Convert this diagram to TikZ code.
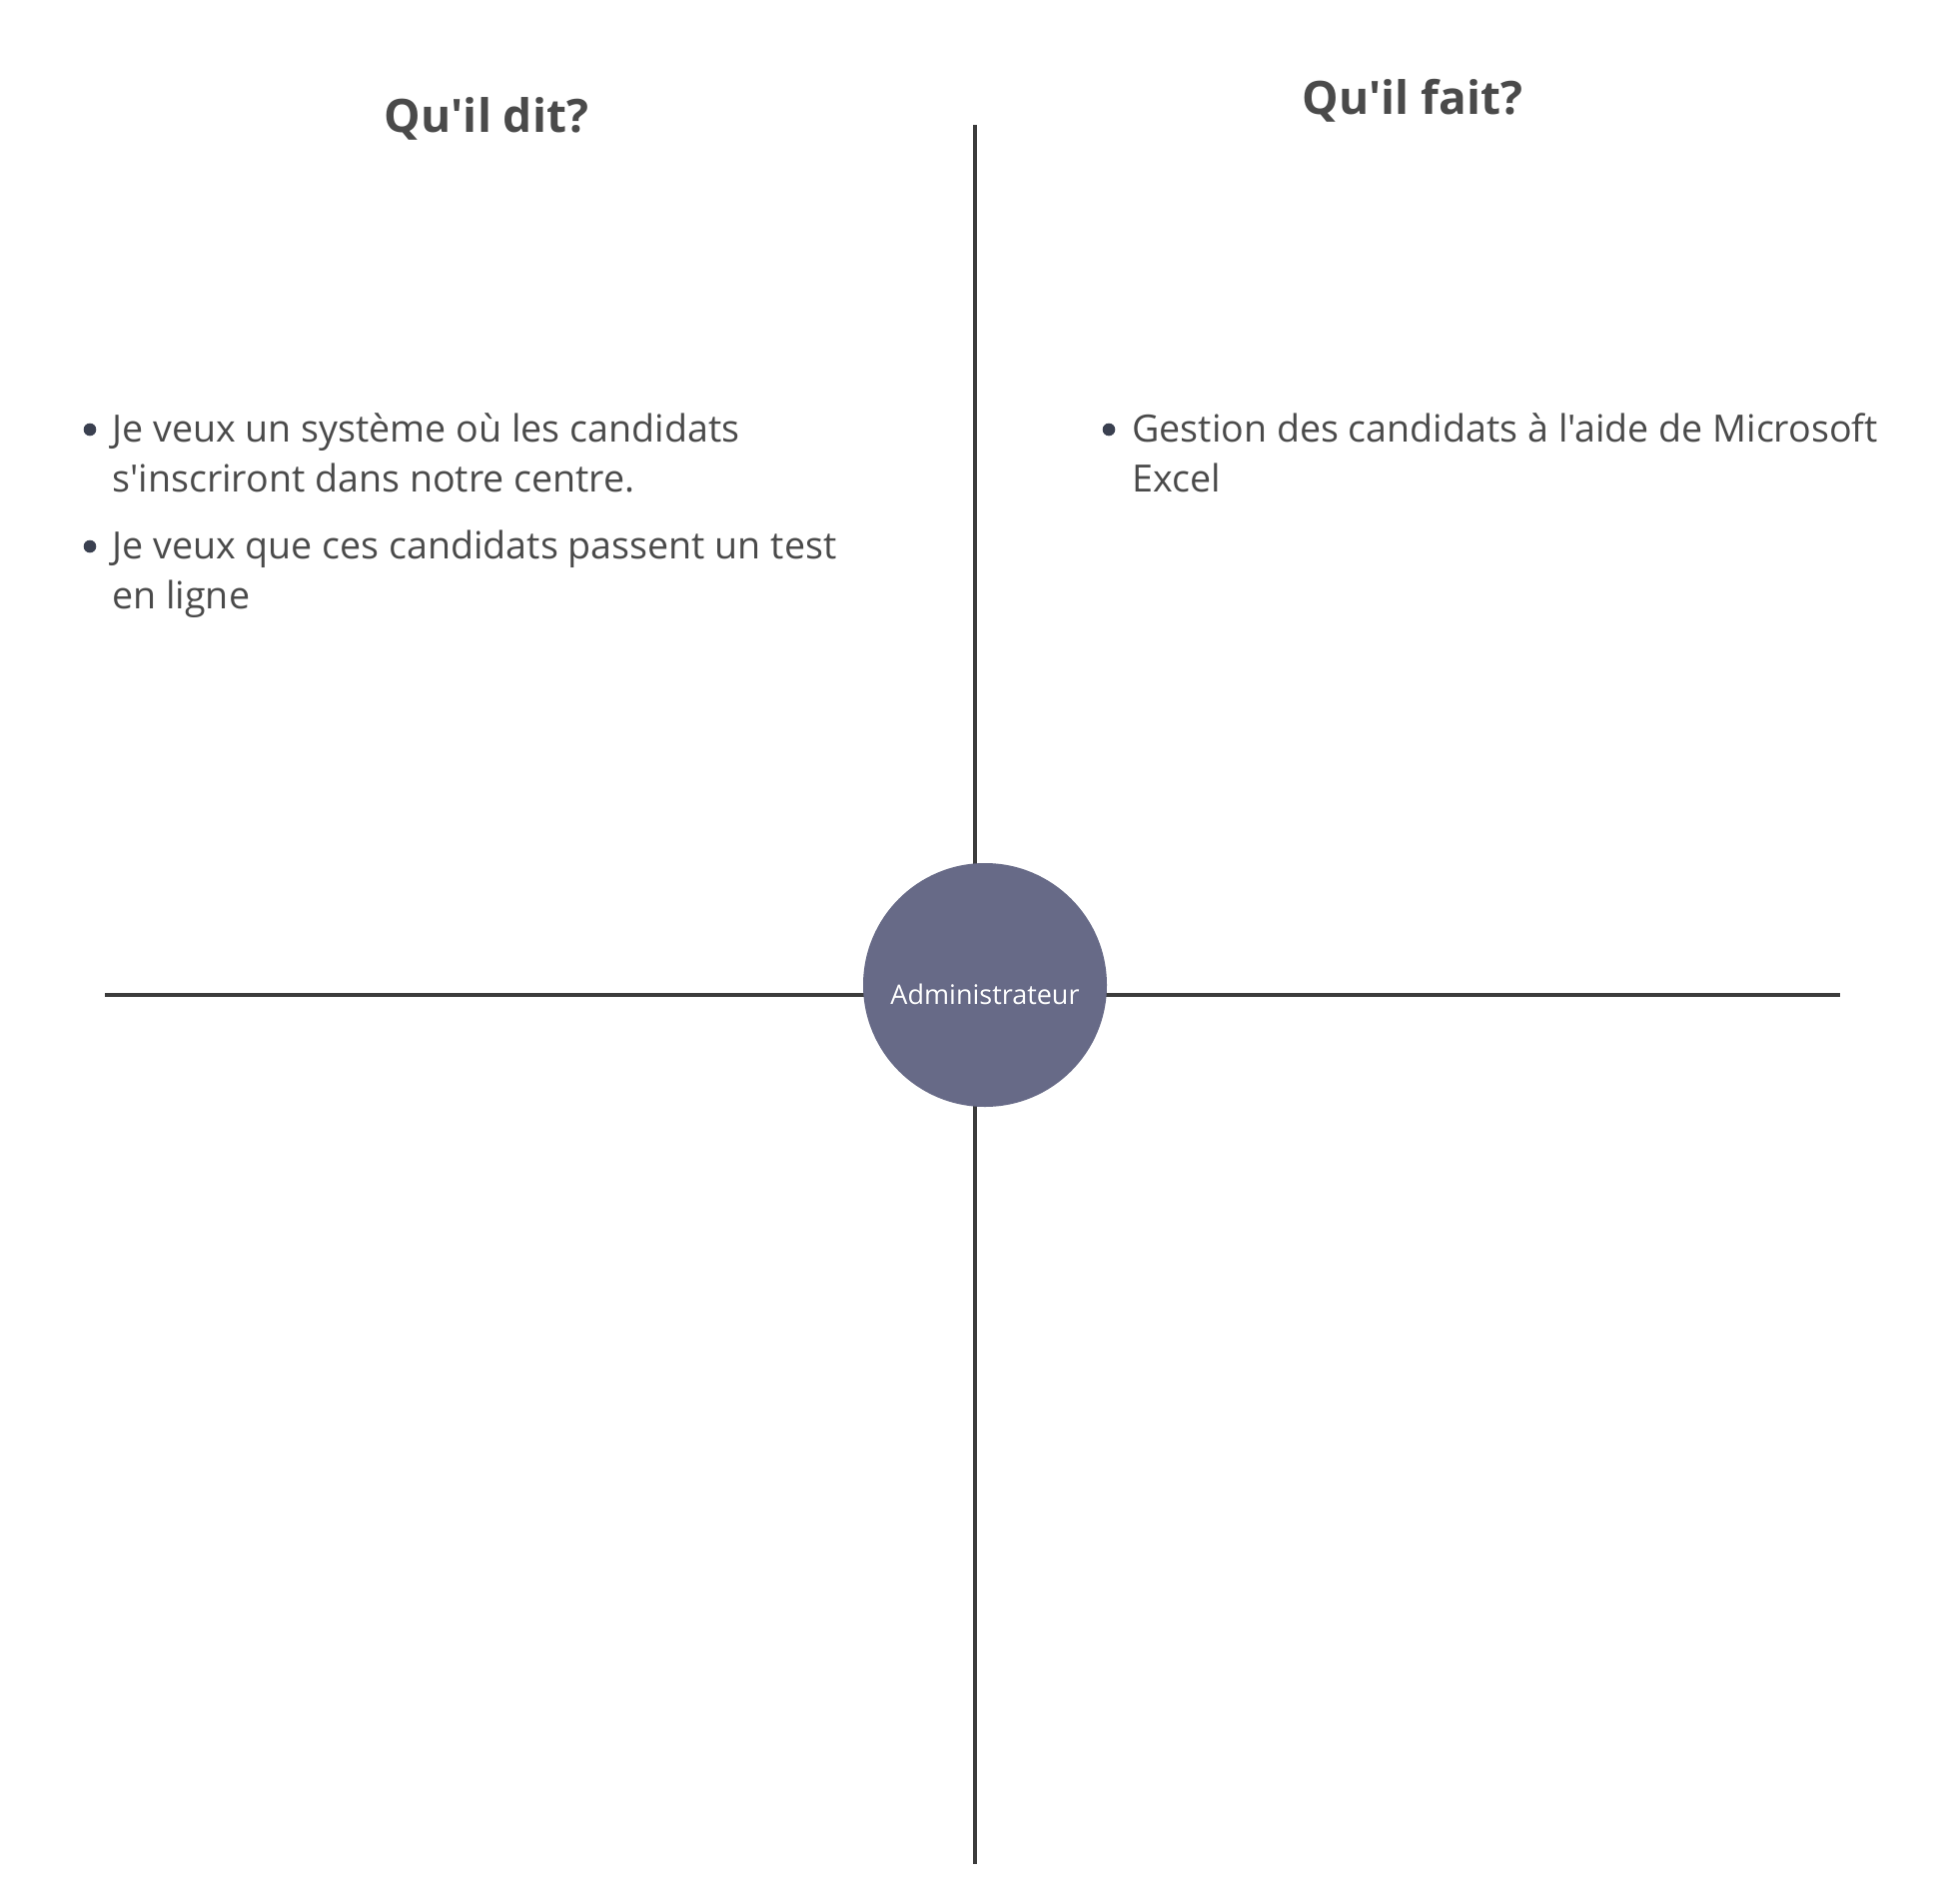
\documentclass[tikz,border=0pt]{standalone}
\usepackage{fontspec}
\newfontfamily\osans{Open Sans}
\begin{document}
\begin{tikzpicture}[x=0.5pt,y=-0.5pt,
  axis/.style={draw=axisgray,line width=1.6pt},
  title/.style={font=\osans\fontsize{23}{28}\selectfont\bfseries,text=titlegray,inner sep=0pt,anchor=base},
  item/.style={font=\osans\fontsize{18.8}{25}\selectfont,text=bodygray,inner sep=0pt,anchor=base west,align=left},
  dot/.style={circle,fill=dotcol,inner sep=0pt,minimum size=6.3pt},
  hub/.style={circle,fill=hubcol,inner sep=0pt,minimum size=122pt}]
\definecolor{axisgray}{HTML}{3C3C3C}
\definecolor{titlegray}{HTML}{4A4A4A}
\definecolor{bodygray}{HTML}{4A4A4A}
\definecolor{dotcol}{HTML}{3A4050}
\definecolor{hubcol}{HTML}{676A87}
\path[use as bounding box,fill=white] (0,0) rectangle (1960,1906);
% axes
\coordinate (top) at (976,125);
\coordinate (bot) at (976,1866);
\coordinate (left) at (105,996);
\coordinate (right) at (1842,996);
\draw[axis] (top) -- (bot);
\draw[axis] (left) -- (right);
% hub
\node[hub] (hub) at (986,986) {};
\node[text=white,font=\osans\fontsize{13.5}{16}\selectfont,inner sep=0pt,anchor=base] (hublabel) at (986,1005) {Administrateur};
% titles
\node[title] (t1) at (487,132) {Qu'il dit?};
\node[title] (t2) at (1414,114) {Qu'il fait?};
% left bullets
\node[dot] (d1) at (90,430) {};
\node[item] (b1) at (112,492) {Je veux un système où les candidats\\s'inscriront dans notre centre.};
\node[dot] (d2) at (90,547) {};
\node[item] (b2) at (112,609) {Je veux que ces candidats passent un test\\en ligne};
% right bullet
\node[dot] (d3) at (1110,430) {};
\node[item] (b3) at (1133,492) {Gestion des candidats à l'aide de Microsoft\\Excel};
\end{tikzpicture}
\end{document}
